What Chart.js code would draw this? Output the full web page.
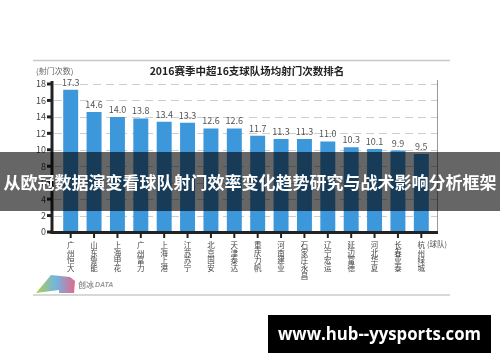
<!DOCTYPE html>
<html>
<head>
<meta charset="utf-8">
<script src="https://cdn.jsdelivr.net/npm/chart.js@4.4.1/dist/chart.umd.min.js"></script>
<style>
  html, body { margin: 0; padding: 0; background: #fff; }
  #wrap { width: 500px; height: 362px; position: relative; }
</style>
</head>
<body>
<div id="wrap"><canvas id="chart" width="500" height="362"></canvas></div>
<script>
// Team names (x categories) and average shots per match
const teams = ["广州恒大", "山东鲁能", "上海申花", "广州富力", "上海上港", "江苏苏宁", "北京国安", "天津泰达",
               "重庆力帆", "河南建业", "石家庄永昌", "辽宁宏运", "延边富德", "河北华夏", "长春亚泰", "杭州绿城"];
const shots = [17.3, 14.6, 14.0, 13.8, 13.4, 13.3, 12.6, 12.6, 11.7, 11.3, 11.3, 11.0, 10.3, 10.1, 9.9, 9.5];
const yTicks = [0, 2, 4, 6, 8, 10, 12, 14, 16, 18];

const chartTitle = "2016赛季中超16支球队场均射门次数排名";
const yUnit = "(射门次数)";
const xUnit = "(球队)";
const bannerText = "从欧冠数据演变看球队射门效率变化趋势研究与战术影响分析框架";
const siteText = "www.hub--yysports.com";

const CJK = '"Noto Sans CJK SC", "Noto Sans", sans-serif';
// the plot frame is a bit wider than the bar area in the original
const frameLeft = 52, frameRight = 437;

const decor = {
    id: "decor",
    beforeDraw(chart) {
        const ctx = chart.ctx;
        ctx.save();
        ctx.fillStyle = "#fff";
        ctx.fillRect(0, 0, chart.width, chart.height);
        // card edges
        ctx.strokeStyle = "#c8c8c8";
        ctx.lineWidth = 1.5;
        ctx.beginPath();
        ctx.moveTo(33, 60.5); ctx.lineTo(450, 60.5);
        ctx.stroke();
        ctx.strokeStyle = "#d8d8d8";
        ctx.lineWidth = 2;
        ctx.beginPath();
        ctx.moveTo(33, 295); ctx.lineTo(450, 295);
        ctx.stroke();
        ctx.restore();
    },
    beforeDatasetsDraw(chart) {
        // dashed grid lines
        const ctx = chart.ctx;
        const y = chart.scales.y;
        ctx.save();
        ctx.strokeStyle = "#cdcdcd";
        ctx.lineWidth = 1;
        ctx.setLineDash([8, 5]);
        yTicks.forEach(v => {
            if (v === 0) return;
            const py = Math.round(y.getPixelForValue(v)) + 0.5;
            ctx.beginPath();
            ctx.moveTo(frameLeft + 2, py);
            ctx.lineTo(frameRight, py);
            ctx.stroke();
        });
        ctx.restore();
    },
    afterDatasetsDraw(chart) {
        const ctx = chart.ctx;
        const area = chart.chartArea;
        const yScale = chart.scales.y;
        const meta = chart.getDatasetMeta(0);
        ctx.save();

        // right border of plot
        ctx.strokeStyle = "#999";
        ctx.lineWidth = 1;
        ctx.beginPath();
        ctx.moveTo(frameRight + 0.5, area.top - 4);
        ctx.lineTo(frameRight + 0.5, area.bottom);
        ctx.stroke();

        // y axis line + tick marks
        ctx.strokeStyle = "#222";
        ctx.lineWidth = 3;
        ctx.beginPath();
        ctx.moveTo(frameLeft, area.top - 3);
        ctx.lineTo(frameLeft, area.bottom + 2);
        ctx.stroke();
        ctx.lineWidth = 3;
        yTicks.forEach(v => {
            const py = yScale.getPixelForValue(v);
            ctx.beginPath();
            ctx.moveTo(frameLeft - 5, py);
            ctx.lineTo(frameLeft, py);
            ctx.stroke();
        });

        // x axis line
        ctx.beginPath();
        ctx.moveTo(frameLeft - 1.5, area.bottom + 0.5);
        ctx.lineTo(frameRight + 1, area.bottom + 0.5);
        ctx.stroke();

        // value labels
        ctx.fillStyle = "#555";
        ctx.font = "9px " + CJK;
        ctx.textAlign = "center";
        ctx.textBaseline = "bottom";
        meta.data.forEach((bar, i) => {
            ctx.fillText(shots[i].toFixed(1), bar.x, bar.y - 3);
        });

        // x ticks + vertical category labels
        ctx.strokeStyle = "#222";
        ctx.lineWidth = 2;
        ctx.font = "7.5px " + CJK;
        ctx.fillStyle = "#444";
        ctx.textBaseline = "middle";
        meta.data.forEach((bar, i) => {
            ctx.beginPath();
            ctx.moveTo(bar.x, area.bottom + 2);
            ctx.lineTo(bar.x, area.bottom + 6);
            ctx.stroke();
            Array.from(teams[i]).forEach((c, k) => {
                ctx.fillText(c, bar.x, area.bottom + 13 + k * 7.8);
            });
        });
        ctx.textAlign = "left";
        ctx.fillStyle = "#555";
        ctx.fillText(xUnit, 427, area.bottom + 12);

        // title and y unit
        ctx.fillStyle = "#222";
        ctx.font = "bold 10.5px " + CJK;
        ctx.textAlign = "center";
        ctx.fillText(chartTitle, 247, 71);
        ctx.fillStyle = "#666";
        ctx.font = "8px " + CJK;
        ctx.textAlign = "left";
        ctx.fillText(yUnit, 36, 71);

        // logo
        const g = ctx.createLinearGradient(36, 0, 75, 0);
        g.addColorStop(0, "#b5cf4a");
        g.addColorStop(0.5, "#6fb6e0");
        g.addColorStop(1, "#e06a8a");
        ctx.fillStyle = g;
        ctx.beginPath();
        ctx.moveTo(36, 293);
        ctx.lineTo(51, 275);
        ctx.lineTo(70, 277);
        ctx.lineTo(75, 281);
        ctx.lineTo(74, 293);
        ctx.lineTo(59, 293);
        ctx.lineTo(59, 290);
        ctx.closePath();
        ctx.fill();
        ctx.fillStyle = "#999";
        ctx.font = "bold 8px " + CJK;
        ctx.fillText("创冰", 78, 285);
        ctx.font = "italic bold 7px sans-serif";
        ctx.fillText("DATA", 95, 285);

        // banner overlay
        ctx.fillStyle = "rgba(0,0,0,0.6)";
        ctx.fillRect(0, 152, 500, 59);
        ctx.fillStyle = "#fff";
        ctx.font = "bold 17px " + CJK;
        ctx.textAlign = "center";
        ctx.textBaseline = "middle";
        ctx.fillText(bannerText, 250, 183, 494);

        // site box
        ctx.fillStyle = "#000";
        ctx.fillRect(268, 315, 223, 38);
        ctx.fillStyle = "#fff";
        ctx.font = 'bold 18px "Open Sans", "DejaVu Sans", sans-serif';
        ctx.fillText(siteText, 379.5, 334.5, 203);

        ctx.restore();
    }
};

new Chart(document.getElementById("chart"), {
    type: "bar",
    data: {
        labels: teams,
        datasets: [{
            data: shots,
            backgroundColor: "#3d97db",
            borderWidth: 0,
            categoryPercentage: 1,
            barPercentage: 0.64,
        }],
    },
    options: {
        responsive: false,
        animation: false,
        events: [],
        layout: { padding: { left: 0, right: 67, top: 84, bottom: 130 } },
        plugins: { legend: { display: false }, tooltip: { enabled: false } },
        scales: {
            x: { display: false },
            y: {
                min: 0,
                max: 18,
                afterFit: s => { s.width = 59; },
                afterBuildTicks: s => { s.ticks = yTicks.map(v => ({ value: v })); },
                ticks: {
                    color: "#444",
                    font: { size: 9, family: CJK },
                    padding: 13,
                },
                grid: { display: false, drawTicks: false },
                border: { display: false },
            },
        },
    },
    plugins: [decor],
});
</script>
</body>
</html>
